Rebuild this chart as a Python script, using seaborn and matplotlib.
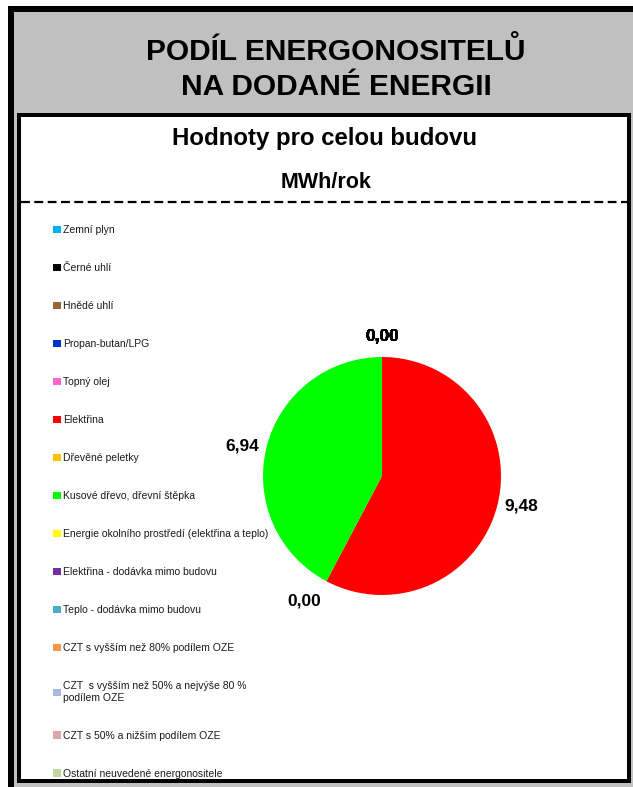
import matplotlib
matplotlib.use("Agg")
import matplotlib.pyplot as plt
from matplotlib.patches import Rectangle
from matplotlib.lines import Line2D
import seaborn as sns

sns.set_theme(style="white")
plt.rcParams['font.family'] = ['Liberation Sans', 'DejaVu Sans']

# data
categories = [
    "Zemní plyn",
    "Černé uhlí",
    "Hnědé uhlí",
    "Propan-butan/LPG",
    "Topný olej",
    "Elektřina",
    "Dřevěné peletky",
    "Kusové dřevo, dřevní štěpka",
    "Energie okolního prostředí (elektřina a teplo)",
    "Elektřina - dodávka mimo budovu",
    "Teplo - dodávka mimo budovu",
    "CZT s vyšším než 80% podílem OZE",
    "CZT  s vyšším než 50% a nejvýše 80 %\npodílem OZE",
    "CZT s 50% a nižším podílem OZE",
    "Ostatní neuvedené energonositele",
]
values = [0, 0, 0, 0, 0, 9.48, 0, 6.94, 0, 0, 0, 0, 0, 0, 0]
colors = ["#00b0f0", "#000000", "#996633", "#0033cc", "#ff66cc", "#ff0000",
          "#ffc000", "#00ff00", "#ffff00", "#7030a0", "#4bacc6", "#f79646",
          "#a6b8db", "#dba6a6", "#c3d69b"]
palette = sns.color_palette(colors)

W, H = 633, 787
fig = plt.figure(figsize=(W / 100, H / 100), dpi=100)
fig.patch.set_facecolor("white")


def rect(x0, y0, x1, y1, **kw):
    return Rectangle((x0 / W, 1 - y1 / H), (x1 - x0) / W, (y1 - y0) / H,
                     transform=fig.transFigure, zorder=-5, **kw)


# frame: black outer edge, gray panel, white inner box
fig.patches.append(rect(8, 6, W + 5, H + 5, facecolor="black", edgecolor="none"))
fig.patches.append(rect(14, 12, W + 5, H + 5, facecolor="#c0c0c0", edgecolor="none"))
fig.patches.append(rect(17, 113, 631, 783, facecolor="black", edgecolor="none"))
fig.patches.append(rect(21, 117, 627, 779, facecolor="white", edgecolor="none"))
fig.lines.append(Line2D([21 / W, 627 / W], [1 - 202 / H, 1 - 202 / H], transform=fig.transFigure,
                        color="black", lw=1.6, linestyle=(0, (4, 2)), zorder=-4))

# titles
fig.text(336 / W, 1 - 51 / H, "PODÍL ENERGONOSITELŮ", ha="center", va="center",
         fontsize=21.5, fontweight="bold", color="black")
fig.text(336 / W, 1 - 87 / H, "NA DODANÉ ENERGII", ha="center", va="center",
         fontsize=21.5, fontweight="bold", color="black")
fig.text(325 / W, 1 - 138 / H, "Hodnoty pro celou budovu", ha="center", va="center",
         fontsize=17.3, fontweight="bold", color="black")
fig.text(326 / W, 1 - 182 / H, "MWh/rok", ha="center", va="center",
         fontsize=15.5, fontweight="bold", color="black")

# pie
cx, cy, r, k = 382, 476, 119, 1.6
half = r * k
ax = fig.add_axes([(cx - half) / W, 1 - (cy + half) / H, 2 * half / W, 2 * half / H])
labels = [f"{v:.2f}".replace(".", ",") for v in values]
wedges, texts = ax.pie(values, labels=labels, colors=palette, startangle=90,
                       counterclock=False, labeldistance=1.06,
                       wedgeprops=dict(linewidth=0),
                       textprops=dict(fontsize=12.5, fontweight="bold", color="black"))
for t in texts:
    x, y = t.get_position()
    t.set_ha("center" if abs(x) < 0.15 else ("left" if x > 0 else "right"))
    t.set_va("bottom" if y > 0.5 else ("top" if y < -0.5 else "center"))
    if abs(y) > 0.5:
        t.set_position((x * 1.03, y * 1.05))
ax.set_xlim(-k, k)
ax.set_ylim(-k, k)
ax.set_aspect("equal")
ax.axis("off")

leg = fig.legend(wedges, categories, loc="upper left",
                 bbox_to_anchor=(53 / W, 1 - 225 / H), frameon=False,
                 fontsize=7.5, handlelength=0.75, handleheight=0.75,
                 handletextpad=0.25, labelspacing=2.69, borderpad=0,
                 borderaxespad=0)
for t in leg.get_texts():
    t.set_color("#1a1a1a")

fig.savefig("out.png", dpi=100)
